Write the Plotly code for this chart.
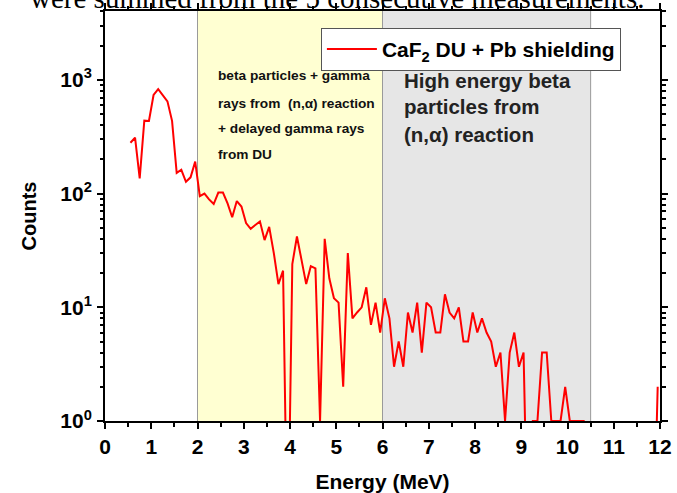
import plotly.graph_objects as go

# Energy bin centres (MeV) and summed counts
energy_mev = [round(0.55 + 0.1 * i, 2) for i in range(115)]
counts = [
    280, 310, 136, 438, 435, 737, 830, 727, 648, 436,
    152, 162, 127, 139, 191, 95, 100, 89, 81, 102,
    102, 82, 62, 86, 77, 55, 49, 53, 57, 39,
    51, 30, 16, 21, 0, 24, 42, 26, 16, 23,
    22, 1, 40, 18, 12, 11, 2, 30, 8, 9,
    10, 15, 7, 11, 6, 12, 8, 3, 5, 3,
    9, 6, 11, 4, 11, 10, 6, 6, 13, 9,
    8, 10, 5, 5, 9, 6, 8, 6, 5, 3,
    4, 1, 4, 6, 3, 4, 0, 1, 1, 4,
    4, 1, 1, 1, 2, 1, 1, 1, 1, 0,
    0, 0, 0, 0, 0, 0, 0, 0, 0, 0,
    0, 0, 0, 0, 2,
]
series_name = "CaF<sub>2</sub> DU + Pb shielding"
x_ticks = list(range(0, 13))
y_tick_vals = [1, 10, 100, 1000]
y_tick_text = ["10<sup>0</sup>", "10<sup>1</sup>", "10<sup>2</sup>", "10<sup>3</sup>"]
yellow_region = (2, 6)
gray_region = (6, 10.5)
yellow_lines = ["beta particles + gamma", "rays from  (n,\u03b1) reaction",
                "+ delayed gamma rays", "from DU"]
gray_lines = ["High energy beta", "particles from", "(n,\u03b1) reaction"]
caption = "were summed from the 5 consecutive measurements."

# zero counts cannot sit on a log axis: draw them below the axis (clipped)
y_plot = [c if c > 0 else 0.05 for c in counts]

SANS = "Liberation Sans, Arial, sans-serif"
Y_LO, Y_HI = 0.5, 10000  # region fill spans the whole (clipped) plot height

fig = go.Figure()
for (x0, x1), col in [(yellow_region, "#ffffd2"), (gray_region, "#e6e6e6")]:
    fig.add_trace(go.Scatter(
        x=[x0, x1, x1, x0, x0], y=[Y_LO, Y_LO, Y_HI, Y_HI, Y_LO],
        mode="lines", fill="toself", fillcolor=col,
        line=dict(color="#9a9a9a", width=1), showlegend=False, hoverinfo="skip",
    ))
fig.add_trace(go.Scatter(
    x=energy_mev, y=y_plot, mode="lines", name=series_name,
    line=dict(color="#ff0000", width=2),
))

for i, t in enumerate(yellow_lines):
    fig.add_annotation(text=t, xref="paper", yref="paper", x=0.2, y=[0.8415, 0.7756, 0.7122, 0.6488][i],
                       xanchor="left", yanchor="middle", showarrow=False,
                       font=dict(family=SANS, size=13.7, color="#111", weight="bold"))
for i, t in enumerate(gray_lines):
    fig.add_annotation(text=t, xref="paper", yref="paper", x=0.5346, y=[0.8305, 0.7659, 0.70][i],
                       xanchor="left", yanchor="middle", showarrow=False,
                       font=dict(family=SANS, size=20.5, color="#222", weight="bold"))

fig.add_annotation(text=caption, xref="paper", yref="paper", x=-0.1387, y=0.9878,
                   xanchor="left", yanchor="bottom", showarrow=False,
                   font=dict(family="Liberation Serif, Times New Roman, serif", size=29, color="#000"))

axis_common = dict(showline=True, linecolor="black", linewidth=2, mirror="allticks",
                   ticks="outside", tickcolor="black", tickwidth=2, showgrid=False,
                   zeroline=False, automargin=False)

fig.update_xaxes(
    range=[0, 12], tickmode="array", tickvals=x_ticks, ticklen=6,
    minor=dict(dtick=0.5, ticks="outside", ticklen=3.5, tickwidth=2, tickcolor="black", showgrid=False),
    tickfont=dict(family=SANS, size=21, color="black", weight="bold"),
    ticklabelstandoff=0,
    title=dict(text="Energy (MeV)", standoff=25,
               font=dict(family=SANS, size=21, color="black", weight="bold")),
    **axis_common,
)
fig.update_yaxes(
    type="log", range=[0, 3.606], tickmode="array", tickvals=y_tick_vals, ticktext=y_tick_text,
    ticklen=6,
    minor=dict(dtick="D1", ticks="outside", ticklen=3.5, tickwidth=2, tickcolor="black", showgrid=False),
    tickfont=dict(family=SANS, size=21, color="black", weight="bold"),
    ticklabelstandoff=1,
    title=dict(text="Counts", standoff=18,
               font=dict(family=SANS, size=20, color="black", weight="bold")),
    **axis_common,
)

fig.update_layout(
    template="none",
    width=677, height=493,
    margin=dict(l=105, r=17, t=11, b=72, autoexpand=False),
    paper_bgcolor="white", plot_bgcolor="rgba(0,0,0,0)",
    showlegend=True,
    legend=dict(x=0.389, y=0.959, xanchor="left", yanchor="top",
                bgcolor="white", bordercolor="#555", borderwidth=1,
                itemwidth=50,
                font=dict(family=SANS, size=21, color="black", weight="bold")),
)

fig.write_html("out.html", config={"displayModeBar": False},
               post_script="document.body.style.margin='0px';")
